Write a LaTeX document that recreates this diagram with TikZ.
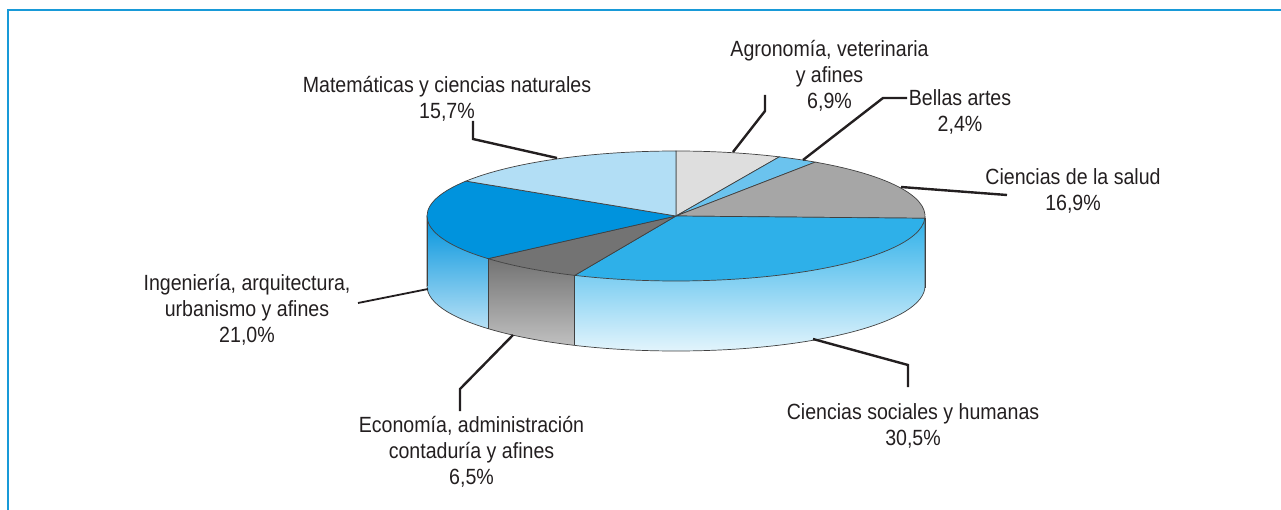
\documentclass[tikz,border=0pt]{standalone}
\usepackage{fontspec}
\setmainfont[FakeStretch=0.89]{Liberation Sans}
\usetikzlibrary{positioning}
\definecolor{frameblue}{RGB}{24,154,216}
\definecolor{txt}{RGB}{35,31,32}
\definecolor{cmat}{HTML}{B2DEF5}
\definecolor{cagro}{HTML}{DEDEDE}
\definecolor{cbel}{HTML}{6BC3EE}
\definecolor{csal}{HTML}{A6A6A6}
\definecolor{csoc}{HTML}{2EB0E9}
\definecolor{ceco}{HTML}{737373}
\definecolor{cing}{HTML}{0093DD}
\tikzset{%
   lbl/.style={align=center, inner sep=0pt, anchor=base, text=txt, font=\fontsize{22}{26}\selectfont},
   lead/.style={line width=2.4pt, draw=txt, line join=miter},
   rim/.style={draw=black!75, line width=0.7pt},
}
\newcommand{\pieslice}[3]{%
  \filldraw[rim, fill=#3] (0,0) -- (#1:249 and 65) arc[start angle=#1, end angle=#2, x radius=249, y radius=65] -- cycle;}
\newcommand{\piewall}[5]{%
  \shade[top color=#3, middle color=#4, bottom color=#5] (#1:249 and 65) arc[start angle=#1, end angle=#2, x radius=249, y radius=65]
     -- ++(0,-70) arc[start angle=#2, end angle=#1, x radius=249, y radius=65] -- cycle;
  \draw[rim] (#1:249 and 65) -- ++(0,-70);}

\begin{document}
\begin{tikzpicture}[x=1pt, y=1pt]
   \useasboundingbox (0,0) rectangle (1281,-510);
   \draw[frameblue, line width=2pt] (8,-510) -- (8,-10) -- (1281,-10);

   \begin{scope}[shift={(676,-216)}]
      \piewall{180}{221}{cing}{cing!85}{cing!28}
      \piewall{221}{246}{ceco}{ceco!80}{ceco!45}
      \piewall{246}{358}{csoc}{csoc!65}{csoc!12}
      \piewall{358}{360}{csal}{csal!80}{csal!60}
      \draw[rim] (180:249 and 65) -- ++(0,-70) arc[start angle=180, end angle=360, x radius=249, y radius=65] -- ++(0,70);
      \pieslice{90}{65.5}{cagro}
      \pieslice{65.5}{56}{cbel}
      \pieslice{56}{-2}{csal}
      \pieslice{-2}{-114}{csoc}
      \pieslice{-114}{-139}{ceco}
      \pieslice{-139}{-212.5}{cing}
      \pieslice{147.5}{90}{cmat}
   \end{scope}

   \node[lbl] (mat) at (447,-118.5) {Matemáticas y ciencias naturales\\15,7\%};
   \node[lbl] (agro) at (829.5,-108.5) {Agronomía, veterinaria\\y afines\\6,9\%};
   \node[lbl] (bel) at (960,-131.5) {Bellas artes\\2,4\%};
   \node[lbl] (sal) at (1073,-210.5) {Ciencias de la salud\\16,9\%};
   \node[lbl] (soc) at (913,-445) {Ciencias sociales y humanas\\30,5\%};
   \node[lbl] (ing) at (247,-342.5) {Ingeniería, arquitectura,\\urbanismo y afines\\21,0\%};
   \node[lbl] (eco) at (471.5,-484) {Economía, administración\\contaduría y afines\\6,5\%};

   \coordinate (mat0) at (557,-158); \coordinate (mat1) at (473,-139); \coordinate (mat2) at (473,-121);
   \coordinate (agro0) at (733,-152); \coordinate (agro1) at (765,-111); \coordinate (agro2) at (765,-95);
   \coordinate (bel0) at (803,-160); \coordinate (bel1) at (883,-98); \coordinate (bel2) at (907,-98);
   \coordinate (sal0) at (901,-187); \coordinate (sal1) at (1007,-195);
   \coordinate (soc0) at (813,-339); \coordinate (soc1) at (908,-365); \coordinate (soc2) at (908,-387);
   \coordinate (eco0) at (513,-335); \coordinate (eco1) at (460,-389); \coordinate (eco2) at (460,-411);
   \coordinate (ing0) at (428,-289); \coordinate (ing1) at (358,-303);

   \draw[lead] (mat0) -- (mat1) -- (mat2);
   \draw[lead] (agro0) -- (agro1) -- (agro2);
   \draw[lead] (bel0) -- (bel1) -- (bel2);
   \draw[lead] (sal0) -- (sal1);
   \draw[lead] (soc0) -- (soc1) -- (soc2);
   \draw[lead] (eco0) -- (eco1) -- (eco2);
   \draw[lead, line width=1.8pt] (ing0) -- (ing1);
\end{tikzpicture}
\end{document}
